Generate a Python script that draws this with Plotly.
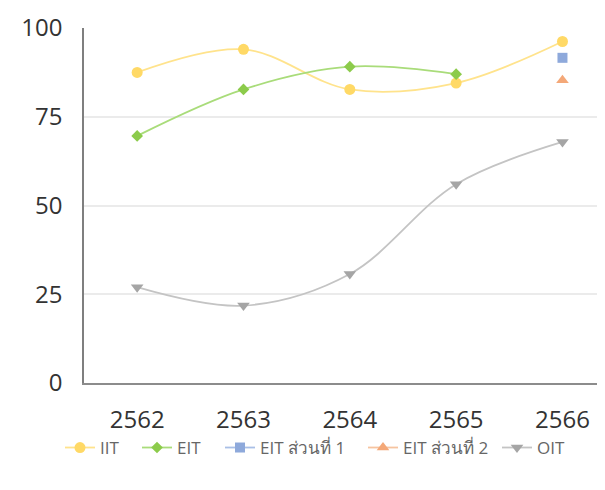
import plotly.graph_objects as go

years = ["2562", "2563", "2564", "2565", "2566"]
iit = [87.5, 94.0, 82.7, 84.5, 96.2]
eit = [69.6, 82.7, 89.1, 87.0, None]
eit_part1 = [None, None, None, None, 91.6]
eit_part2 = [None, None, None, None, 85.3]
oit = [27.0, 21.8, 30.7, 56.0, 67.9]

fig = go.Figure()

legend_ids = ["legend", "legend2", "legend3", "legend4", "legend5"]
legend_marker_px = [80, 157, 240, 383, 517]

def add(i, name, vals, line_color, marker_color, symbol, size):
    fig.add_trace(go.Scatter(
        x=years, y=vals, name=name, mode="lines+markers",
        line=dict(color=line_color, width=1.8, shape="spline", smoothing=1.0),
        marker=dict(color=marker_color, symbol=symbol, size=size),
        connectgaps=False, legend=legend_ids[i],
    ))

add(0, "IIT", iit, "#FFE38C", "#FFD966", "circle", 11)
add(1, "EIT", eit, "#A9DC7A", "#8CCB4B", "diamond", 9)
add(2, "EIT ส่วนที่ 1", eit_part1, "#A9BFE6", "#8EA9DB", "square", 10)
add(3, "EIT ส่วนที่ 2", eit_part2, "#F6C4A0", "#F4A878", "triangle-up", 11)
add(4, "OIT", oit, "#C4C4C4", "#A5A5A5", "triangle-down", 11)

plot_left, plot_w = 84, 521
legends = {}
for lid, px in zip(legend_ids, legend_marker_px):
    legends[lid] = dict(orientation="h", x=(px - 20 - plot_left) / plot_w, xanchor="left",
                        y=-0.183, yanchor="middle",
                        font=dict(size=17, color="#666666"), itemwidth=30,
                        bgcolor="rgba(0,0,0,0)")

fig.update_layout(
    width=597, height=482,
    margin=dict(l=76, r=0, t=20, b=107),
    paper_bgcolor="white", plot_bgcolor="white",
    font=dict(family="Open Sans, Noto Sans, sans-serif", color="#333333"),
    showlegend=True,
    **legends,
)
fig.update_xaxes(
    type="category", range=[-0.5, 4.4],
    showline=True, linecolor="#8C8C8C", linewidth=1.5,
    showgrid=False, ticks="", tickfont=dict(size=24, color="#333333"),
    ticklabelstandoff=14,
)
fig.update_yaxes(
    range=[0, 100], tickvals=[0, 25, 50, 75, 100],
    showline=True, linecolor="#7F7F7F", linewidth=1.5,
    showgrid=True, gridcolor="#EBEBEB", gridwidth=1.5,
    zeroline=False, ticks="", tickfont=dict(size=24, color="#333333"),
    ticklabelstandoff=15,
)

fig.write_html("out.html")
